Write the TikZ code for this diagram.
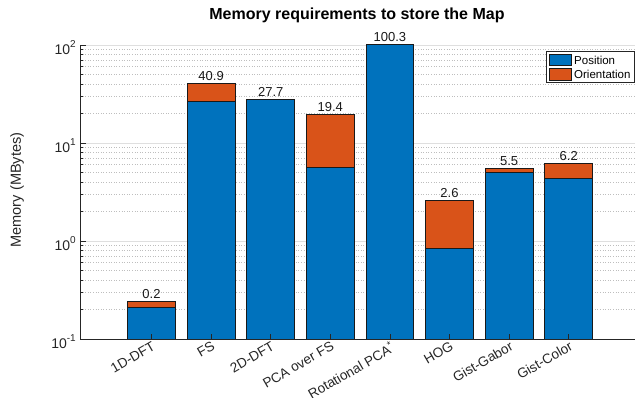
\documentclass[tikz,border=0pt]{standalone}
\usepackage{fontspec}
\setmainfont{Liberation Sans}
\definecolor{mblue}{RGB}{0,114,189}
\definecolor{morange}{RGB}{217,83,25}
\definecolor{axc}{RGB}{38,38,38}
\definecolor{gridmaj}{RGB}{223,223,223}
\definecolor{gridmin}{RGB}{190,190,190}
\tikzset{
  barpos/.style={fill=mblue,draw=black!90,line width=0.9pt},
  barori/.style={fill=morange,draw=black!90,line width=0.9pt},
  vallab/.style={anchor=base,font=\fontsize{13}{15}\selectfont,text=black!90,inner sep=0pt},
  ticklab/.style={anchor=east,font=\fontsize{14}{16}\selectfont,text=axc,inner sep=0pt},
  xlab/.style={anchor=north east,rotate=30,font=\fontsize{13.6}{15}\selectfont,text=axc,inner sep=0pt},
  leglab/.style={anchor=west,font=\fontsize{11.5}{13}\selectfont,text=black,inner sep=0pt},
}
\newcommand\mkbar[5]{% name, x, position, total, label
  \draw[barpos] ({#2-23.85},339) rectangle ({#2+23.85},{339-98*(log10(#3)+1)});
  \ifx&#4&
  \node[vallab] (v#1) at ({#2},{339-98*(log10(#3)+1)-3}) {#5};
  \else
  \draw[barori] ({#2-23.85},{339-98*(log10(#3)+1)}) rectangle ({#2+23.85},{339-98*(log10(#4)+1)});
  \node[vallab] (v#1) at ({#2},{339-98*(log10(#4)+1)-3}) {#5};
  \fi
}
\begin{document}
\begin{tikzpicture}[x=1pt,y=-1pt]
\useasboundingbox (0,0) rectangle (636,397);
% minor grid
\foreach \d in {0,1,2}{
  \foreach \m in {2,...,9}{
    \draw[gridmin,dotted,line width=0.6pt] (80,{339-98*\d-98*log10(\m)}) -- (635,{339-98*\d-98*log10(\m)});
  }
}
% major grid
\foreach \d in {1,2,3}{
  \draw[gridmaj,line width=0.8pt] (80,{339-98*\d}) -- (635,{339-98*\d});
}
% bars
\mkbar{a}{151.5}{0.21}{0.24}{0.2}
\mkbar{b}{211.1}{26.6}{40.9}{40.9}
\mkbar{c}{270.7}{27.7}{}{27.7}
\mkbar{d}{330.3}{5.65}{19.4}{19.4}
\mkbar{e}{389.9}{100.3}{}{100.3}
\mkbar{f}{449.5}{0.84}{2.6}{2.6}
\mkbar{g}{509.1}{5.02}{5.5}{5.5}
\mkbar{h}{568.7}{4.37}{6.2}{6.2}
% axes
\draw[axc,line width=1pt] (80,45) -- (80,339) -- (635,339);
\foreach \d in {0,1,2}{
  \foreach \m in {2,...,9}{
    \draw[axc,line width=0.6pt] (80,{339-98*\d-98*log10(\m)}) -- (83,{339-98*\d-98*log10(\m)});
  }
}
\foreach \d in {0,1,2,3}{
  \draw[axc,line width=0.8pt] (80,{339-98*\d}) -- (86,{339-98*\d});
}
\foreach \x in {151.5,211.1,270.7,330.3,389.9,449.5,509.1,568.7}{
  \draw[axc,line width=0.8pt] (\x,339) -- (\x,334);
}
% y tick labels
\node[ticklab] (ym1) at (76,342) {10\raisebox{0.5em}{\fontsize{10}{10}\selectfont -1}};
\node[ticklab] (y0) at (76,244) {10\raisebox{0.5em}{\fontsize{10}{10}\selectfont 0}};
\node[ticklab] (y1) at (76,146) {10\raisebox{0.5em}{\fontsize{10}{10}\selectfont 1}};
\node[ticklab] (y2) at (76,48) {10\raisebox{0.5em}{\fontsize{10}{10}\selectfont 2}};
% x tick labels
\node[xlab] (x1) at (151.5,340.5) {1D-DFT};
\node[xlab] (x2) at (211.1,340.5) {FS};
\node[xlab] (x3) at (270.7,340.5) {2D-DFT};
\node[xlab] (x4) at (330.3,340.5) {PCA over FS};
\node[xlab] (x5) at (389.9,340.5) {Rotational PCA\textsuperscript{*}};
\node[xlab] (x6) at (449.5,340.5) {HOG};
\node[xlab] (x7) at (509.1,340.5) {Gist-Gabor};
\node[xlab] (x8) at (568.7,340.5) {Gist-Color};
% axis labels
\node[rotate=90,font=\fontsize{14.6}{16}\selectfont,text=axc] (ylab) at (17,190) {Memory (MBytes)};
\node[font=\bfseries\fontsize{16}{18}\selectfont] (title) at (357,15) {Memory requirements to store the Map};
% legend
\draw[fill=white,draw=axc,line width=0.9pt] (546.7,51.7) rectangle (634.3,82.3);
\draw[barpos] (549,54.3) rectangle (571.3,65.7);
\draw[barori] (549,68.3) rectangle (571.3,80);
\node[leglab] (l1) at (574,60.5) {Position};
\node[leglab] (l2) at (574,74.5) {Orientation};
\end{tikzpicture}
\end{document}
